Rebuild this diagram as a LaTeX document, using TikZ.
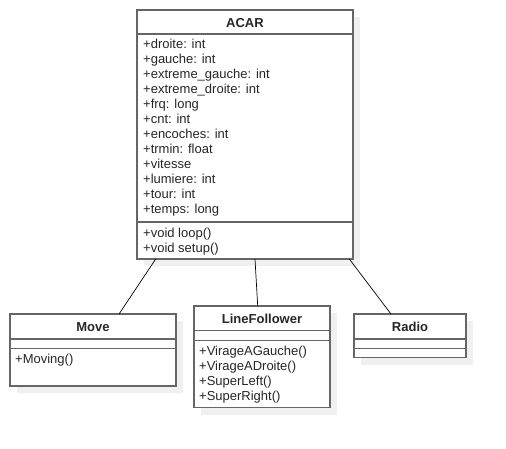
\documentclass[tikz,border=0pt]{standalone}
\usepackage{fontspec}
\setmainfont{Liberation Sans}
\usetikzlibrary{shadows}
\begin{document}
\begin{tikzpicture}[x=1pt,y=-1pt,
  classbox/.style={draw=black!60, line width=1.5pt, fill=white, inner sep=0pt, outer sep=0pt,
    anchor=north west, drop shadow={shadow xshift=7pt, shadow yshift=-7pt, opacity=1, fill=black!6}},
  sepline/.style={draw=black!60, line width=1.5pt},
  title/.style={font=\fontsize{13}{15}\selectfont\bfseries, anchor=base, inner sep=0pt, text=black!85},
  member/.style={font=\fontsize{13}{15}\selectfont, anchor=base west, inner sep=0pt, text=black!85},
  conn/.style={draw=black, line width=0.7pt}]
\useasboundingbox (0,0) rectangle (506,448);

% ACAR
\node[classbox, minimum width=216pt, minimum height=249pt] (acar) at (137,10) {};
\draw[sepline] (137,34) -- (353,34);
\draw[sepline] (137,222) -- (353,222);
\node[title] (acart) at (245,27) {ACAR};
\foreach \t [count=\i from 0] in {+droite: int,+gauche: int,+extreme\_gauche: int,+extreme\_droite: int,+frq: long,+cnt: int,+encoches: int,+trmin: float,+vitesse,+lumiere: int,+tour: int,+temps: long}
  \node[member] (acara\i) at (143,48.3+15*\i) {\t};
\node[member] (acarm0) at (143,237.3) {+void loop()};
\node[member] (acarm1) at (143,252.3) {+void setup()};

% Move
\node[classbox, minimum width=166pt, minimum height=72pt] (move) at (10,314) {};
\draw[sepline] (10,339) -- (176,339);
\draw[sepline] (10,348.7) -- (176,348.7);
\node[title] (movet) at (93,331) {Move};
\node[member] (movem0) at (15,363.3) {+Moving()};

% LineFollower
\node[classbox, minimum width=136pt, minimum height=101.7pt] (lf) at (194,306) {};
\draw[sepline] (194,330.3) -- (330,330.3);
\draw[sepline] (194,340.7) -- (330,340.7);
\node[title] (lft) at (262,323) {LineFollower};
\foreach \t [count=\i from 0] in {+VirageAGauche(),+VirageADroite(),+SuperLeft(),+SuperRight()}
  \node[member] (lfm\i) at (199,355.6+15*\i) {\t};

% Radio
\node[classbox, minimum width=112pt, minimum height=43.7pt] (radio) at (354,314) {};
\draw[sepline] (354,339) -- (466,339);
\draw[sepline] (354,348.7) -- (466,348.7);
\node[title] (radiot) at (410,331) {Radio};

% connectors
\draw[conn] ([xshift=-89.3pt]acar.south) -- ([xshift=26pt]move.north);
\draw[conn] ([xshift=10pt]acar.south) -- ([xshift=-4.3pt]lf.north);
\draw[conn] ([xshift=104.3pt]acar.south) -- ([xshift=-19pt]radio.north);
\end{tikzpicture}
\end{document}
